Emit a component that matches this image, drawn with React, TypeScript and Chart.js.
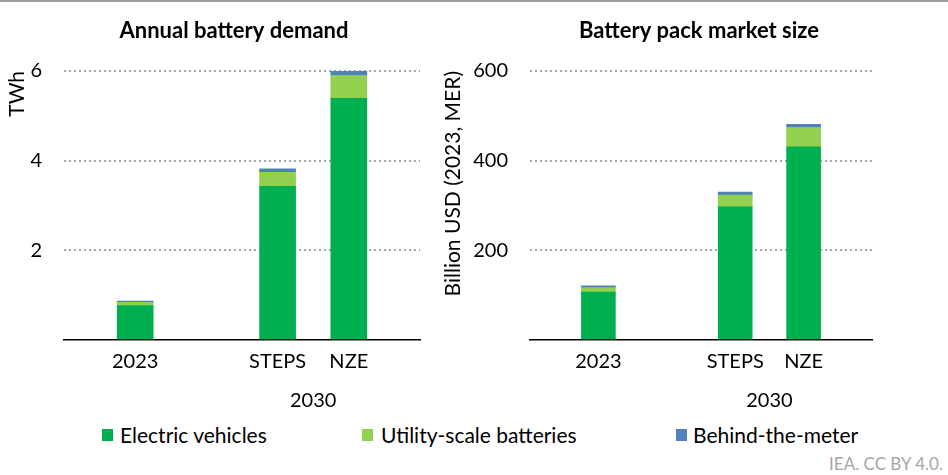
import React, { useEffect, useRef } from "react";
import { Chart, registerables } from "chart.js";

Chart.register(...registerables);

// ---- data ----
const xLabels = ["", "2023", "", "STEPS", "NZE", ""];
const groupLabel = "2030";
const seriesNames = ["Electric vehicles", "Utility-scale batteries", "Behind-the-meter"];
const seriesColors = ["#00B050", "#92D050", "#4F81BD"];

const demandTitle = "Annual battery demand";
const demandAxisTitle = "TWh";
const demandEV = [null, 0.77, null, 3.43, 5.39, null];
const demandUtility = [null, 0.07, null, 0.31, 0.51, null];
const demandBTM = [null, 0.03, null, 0.08, 0.1, null];
const demandMax = 6;
const demandStep = 2;

const marketTitle = "Battery pack market size";
const marketAxisTitle = "Billion USD (2023, MER)";
const marketEV = [null, 107, null, 297, 431, null];
const marketUtility = [null, 10, null, 26, 43, null];
const marketBTM = [null, 4, null, 7, 7, null];
const marketMax = 600;
const marketStep = 200;

const credit = "IEA. CC BY 4.0.";

const FONT = "Lato";

type PanelProps = {
  left: number;
  width: number;
  height: number;
  title: string;
  titleX: number;
  axisTitle: string;
  axisTitlePad: number;
  yAxisWidth: number;
  padRight: number;
  barThickness: number;
  series: (number | null)[][];
  yMax: number;
  yStep: number;
};

function Panel(p: PanelProps) {
  const ref = useRef<HTMLCanvasElement | null>(null);
  useEffect(() => {
    if (!ref.current) return;
    const annot = {
      id: "annot",
      afterDraw(chart: any) {
        const ctx = chart.ctx;
        ctx.save();
        ctx.fillStyle = "#000";
        ctx.textAlign = "center";
        ctx.textBaseline = "middle";
        ctx.font = `bold 22px ${FONT}`;
        ctx.fillText(p.title, p.titleX, 31);
        const xs = chart.scales.x;
        const gx = (xs.getPixelForValue(3) + xs.getPixelForValue(4)) / 2;
        ctx.font = `20px ${FONT}`;
        ctx.fillText(groupLabel, gx, 401);
        ctx.restore();
      },
    };
    const chart = new Chart(ref.current, {
      type: "bar",
      data: {
        labels: xLabels,
        datasets: p.series.map((d, i) => ({
          label: seriesNames[i],
          data: d as any,
          backgroundColor: seriesColors[i],
          borderWidth: 0,
          barThickness: p.barThickness,
        })),
      },
      options: {
        animation: false,
        responsive: false,
        maintainAspectRatio: false,
        layout: { padding: { left: 0, right: p.padRight, top: 71, bottom: 40 } },
        plugins: {
          legend: { display: false },
          tooltip: { enabled: false },
          title: { display: false },
        },
        scales: {
          x: {
            stacked: true,
            offset: false,
            grid: { display: false, drawTicks: false },
            border: { display: true, color: "#000", width: 1.5 },
            ticks: {
              autoSkip: false,
              maxRotation: 0,
              padding: 10,
              color: "#000",
              font: { family: FONT, size: 20 },
            },
            afterFit: (s: any) => {
              s.height = 40;
            },
          },
          y: {
            stacked: true,
            min: 0,
            max: p.yMax,
            grid: {
              drawTicks: false,
              color: (c: any) => (c.tick && c.tick.value === 0 ? "rgba(0,0,0,0)" : "#a6a6a6"),
              lineWidth: 2,
            },
            border: { display: false, dash: [2, 3] },
            ticks: {
              stepSize: p.yStep,
              padding: 22,
              color: "#000",
              font: { family: FONT, size: 20 },
              callback: (v: any) => (v === 0 ? "" : String(v)),
            },
            title: {
              display: true,
              text: p.axisTitle,
              align: "end",
              color: "#000",
              font: { family: FONT, size: 21 },
              padding: { top: p.axisTitlePad, bottom: 0 },
            },
            afterFit: (s: any) => {
              s.width = p.yAxisWidth;
            },
          },
        },
      },
      plugins: [annot],
    } as any);
    return () => chart.destroy();
  }, []);
  return (
    <canvas
      ref={ref}
      width={p.width}
      height={p.height}
      style={{ position: "absolute", left: p.left, top: 0, width: p.width, height: p.height }}
    />
  );
}

export default function App() {
  const legendPos = [
    { sq: 102, tx: 120 },
    { sq: 362, tx: 381 },
    { sq: 676, tx: 693 },
  ];
  return (
    <div style={{ position: "relative", width: 948, height: 475, background: "#fff", overflow: "hidden", fontFamily: FONT }}>
      <style>{`body{margin:0}`}</style>
      <div style={{ position: "absolute", left: 0, top: 0, width: 948, height: 2, background: "#9d9d9d" }} />
      <Panel
        left={0}
        width={440}
        height={420}
        title={demandTitle}
        titleX={234}
        axisTitle={demandAxisTitle}
        axisTitlePad={5}
        yAxisWidth={64}
        padRight={20}
        barThickness={36}
        series={[demandEV, demandUtility, demandBTM]}
        yMax={demandMax}
        yStep={demandStep}
      />
      <Panel
        left={440}
        width={508}
        height={420}
        title={marketTitle}
        titleX={259}
        axisTitle={marketAxisTitle}
        axisTitlePad={1}
        yAxisWidth={90}
        padRight={76}
        barThickness={34}
        series={[marketEV, marketUtility, marketBTM]}
        yMax={marketMax}
        yStep={marketStep}
      />
      {seriesNames.map((n, i) => (
        <React.Fragment key={n}>
          <div
            style={{
              position: "absolute",
              left: legendPos[i].sq,
              top: 429,
              width: 11,
              height: 12,
              background: seriesColors[i],
            }}
          />
          <div
            style={{
              position: "absolute",
              left: legendPos[i].tx,
              top: 422,
              fontSize: 21,
              lineHeight: "26px",
              color: "#000",
              whiteSpace: "nowrap",
            }}
          >
            {n}
          </div>
        </React.Fragment>
      ))}
      <div
        style={{
          position: "absolute",
          right: 5,
          top: 454,
          fontSize: 17,
          lineHeight: "20px",
          color: "#a6a6a6",
          whiteSpace: "nowrap",
        }}
      >
        {credit}
      </div>
    </div>
  );
}
